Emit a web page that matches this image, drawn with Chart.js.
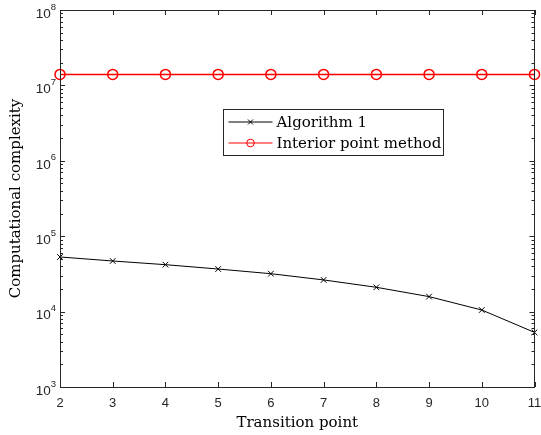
<!DOCTYPE html>
<html>
<head>
<meta charset="utf-8">
<script src="https://cdn.jsdelivr.net/npm/chart.js@4/dist/chart.umd.min.js"></script>
<style>
html,body{margin:0;padding:0;background:#fff;}
#wrap{width:541px;height:435px;position:relative;}
</style>
</head>
<body>
<div id="wrap"><canvas id="c" width="541" height="435"></canvas></div>
<script>
const transitionPoints = [2, 3, 4, 5, 6, 7, 8, 9, 10, 11];
const algorithm1 = [53000, 46900, 41900, 36700, 31800, 26300, 21000, 15800, 10500, 5300];
const interiorPoint = [1.4e7, 1.4e7, 1.4e7, 1.4e7, 1.4e7, 1.4e7, 1.4e7, 1.4e7, 1.4e7, 1.4e7];
const xTicks = [2, 3, 4, 5, 6, 7, 8, 9, 10, 11];
const yExponents = [3, 4, 5, 6, 7, 8];
const seriesLabels = ['Algorithm 1', 'Interior point method'];
const xTitle = 'Transition point';
const yTitle = 'Computational complexity';

const serif = '"DejaVu Serif", "Liberation Serif", serif';
const sans = '"Liberation Sans", Arial, sans-serif';

const axisPlugin = {
  id: 'matlabAxes',
  afterDatasetsDraw(chart) {
    const ctx = chart.ctx;
    const xs = chart.scales.x, ys = chart.scales.y;
    const a = chart.chartArea;
    ctx.save();
    ctx.strokeStyle = '#262626';
    ctx.lineWidth = 1;
    // box
    ctx.strokeRect(Math.round(a.left) + 0.5, Math.round(a.top) + 0.5, Math.round(a.right - a.left) - 1, Math.round(a.bottom - a.top));
    // x ticks
    ctx.beginPath();
    xTicks.forEach(v => {
      const px = Math.round(xs.getPixelForValue(v)) + 0.5;
      ctx.moveTo(px, a.bottom); ctx.lineTo(px, a.bottom - 5);
      ctx.moveTo(px, a.top); ctx.lineTo(px, a.top + 5);
    });
    // y major + minor ticks
    yExponents.forEach((e, i) => {
      const major = Math.pow(10, e);
      const py = Math.round(ys.getPixelForValue(major)) + 0.5;
      ctx.moveTo(a.left, py); ctx.lineTo(a.left + 5, py);
      ctx.moveTo(a.right, py); ctx.lineTo(a.right - 5, py);
      if (i < yExponents.length - 1) {
        for (let m = 2; m <= 9; m++) {
          const pm = Math.round(ys.getPixelForValue(m * major)) + 0.5;
          ctx.moveTo(a.left, pm); ctx.lineTo(a.left + 3, pm);
          ctx.moveTo(a.right, pm); ctx.lineTo(a.right - 3, pm);
        }
      }
    });
    ctx.stroke();

    // x tick labels
    ctx.fillStyle = '#262626';
    ctx.font = '13px ' + sans;
    ctx.textAlign = 'center';
    ctx.textBaseline = 'middle';
    xTicks.forEach(v => {
      ctx.fillText(String(v), xs.getPixelForValue(v), a.bottom + 16);
    });
    // y tick labels with superscript
    yExponents.forEach(e => {
      const py = ys.getPixelForValue(Math.pow(10, e));
      ctx.font = '9.5px ' + sans;
      const ew = ctx.measureText(String(e)).width;
      const right = a.left - 4;
      ctx.textAlign = 'left';
      ctx.textBaseline = 'middle';
      ctx.fillText(String(e), right - ew, py - 3);
      ctx.font = '13.5px ' + sans;
      ctx.textAlign = 'right';
      ctx.fillText('10', right - ew, py + 4);
    });

    // axis titles
    ctx.fillStyle = '#000';
    ctx.font = '15px ' + serif;
    ctx.textAlign = 'center';
    ctx.textBaseline = 'middle';
    ctx.fillText(xTitle, (a.left + a.right) / 2, 423);
    ctx.save();
    ctx.translate(16, (a.top + a.bottom) / 2);
    ctx.rotate(-Math.PI / 2);
    ctx.fillText(yTitle, 0, 0);
    ctx.restore();

    // legend
    const lx = 223.5, ly = 109.5, lw = 220, lh = 46;
    ctx.fillStyle = '#fff';
    ctx.fillRect(lx, ly, lw, lh);
    ctx.strokeStyle = '#262626';
    ctx.lineWidth = 1;
    ctx.strokeRect(lx, ly, lw, lh);
    const rows = [ly + 12.5, ly + 33.5];
    chart.data.datasets.forEach((ds, i) => {
      const yy = rows[i];
      ctx.strokeStyle = ds.borderColor;
      ctx.lineWidth = 1;
      ctx.beginPath();
      ctx.moveTo(lx + 5, yy); ctx.lineTo(lx + 49, yy);
      ctx.stroke();
      ctx.fillStyle = 'rgba(0,0,0,0)';
      ctx.strokeStyle = ds.borderColor;
      Chart.helpers.drawPoint(ctx, {
        pointStyle: ds.pointStyle, radius: ds.pointStyle === 'circle' ? 3.8 : 3.5, borderWidth: 1
      }, lx + 27, yy);
      ctx.fillStyle = '#000';
      ctx.font = '15px ' + serif;
      ctx.textAlign = 'left';
      ctx.textBaseline = 'middle';
      ctx.fillText(ds.label, lx + 53, yy + 1);
    });
    ctx.restore();
  }
};

new Chart(document.getElementById('c'), {
  type: 'line',
  data: {
    datasets: [
      {
        label: seriesLabels[0],
        data: transitionPoints.map((x, i) => ({ x: x, y: algorithm1[i] })),
        borderColor: '#000', backgroundColor: 'transparent',
        borderWidth: 1, pointStyle: 'crossRot', pointRadius: 4,
        pointBorderColor: '#000', pointBorderWidth: 1, tension: 0
      },
      {
        label: seriesLabels[1],
        data: transitionPoints.map((x, i) => ({ x: x, y: interiorPoint[i] })),
        borderColor: '#ff0000', backgroundColor: 'transparent',
        borderWidth: 1.5, pointStyle: 'circle', pointRadius: 5,
        pointBorderColor: '#ff0000', pointBackgroundColor: 'transparent',
        pointBorderWidth: 1.5, tension: 0
      }
    ]
  },
  options: {
    responsive: false,
    animation: false,
    devicePixelRatio: 1,
    layout: { padding: { left: 60, right: 2, top: 10, bottom: 48 } },
    plugins: { legend: { display: false }, tooltip: { enabled: false } },
    scales: {
      x: { type: 'linear', min: 2, max: 11, display: false },
      y: { type: 'logarithmic', min: 1e3, max: 1e8, display: false }
    },
    elements: { point: { hoverRadius: 4 } },
    clip: false
  },
  plugins: [axisPlugin]
});
</script>
</body>
</html>
